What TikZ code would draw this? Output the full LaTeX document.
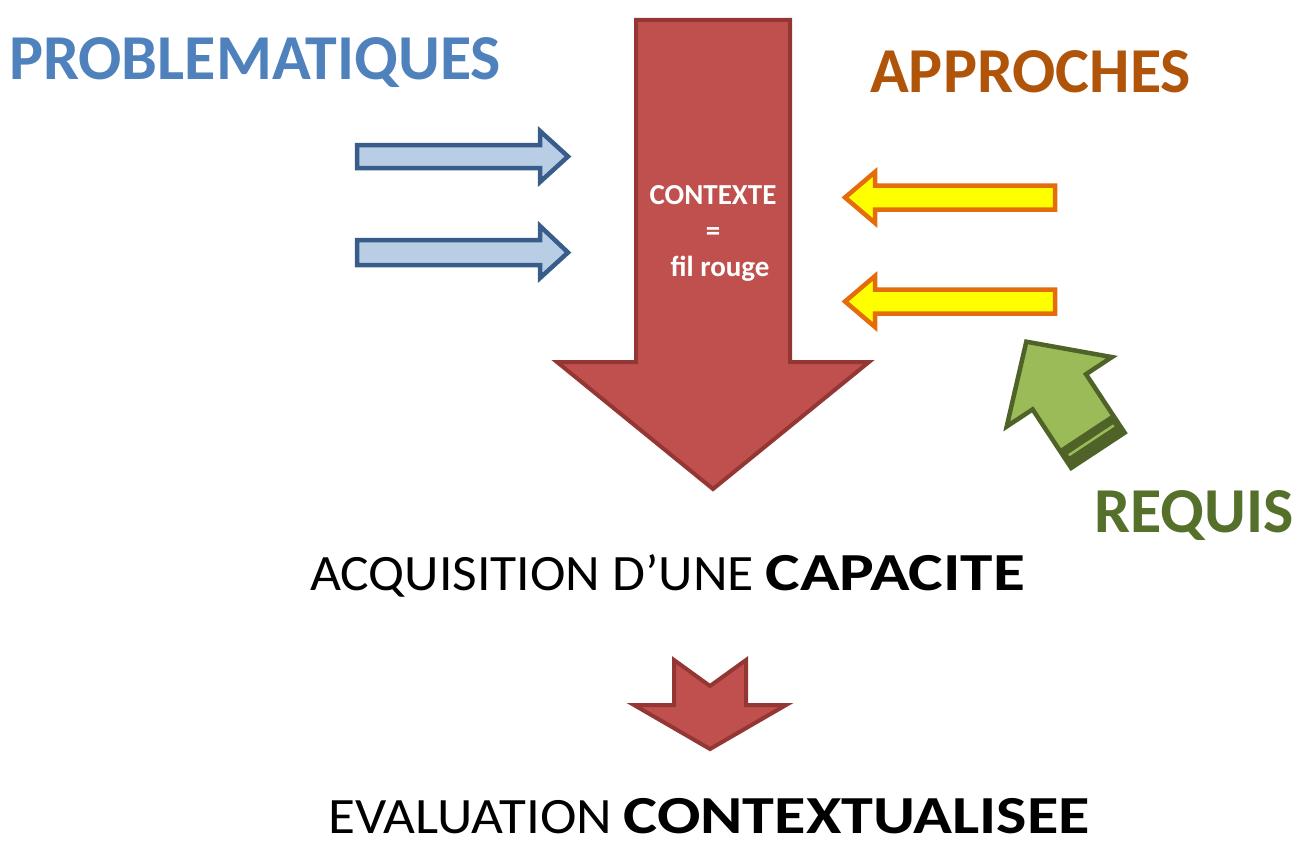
\documentclass[tikz,border=0pt]{standalone}
\usepackage{fontspec}
\setmainfont{Carlito}
\definecolor{ctxred}{HTML}{C0504D}
\definecolor{ctxreddark}{HTML}{943634}
\definecolor{pbfill}{HTML}{B9CDE5}
\definecolor{pbline}{HTML}{385D8A}
\definecolor{pbtext}{HTML}{4F81BD}
\definecolor{apfill}{HTML}{FFFF00}
\definecolor{apline}{HTML}{E46C0A}
\definecolor{aptext}{HTML}{B0540A}
\definecolor{rqfill}{HTML}{9BBB59}
\definecolor{rqline}{HTML}{4F6228}
\definecolor{rqtext}{HTML}{55702A}
\begin{document}
\begin{tikzpicture}[x=1pt,y=-1pt,line join=miter,
  redarrow/.style={fill=ctxred,draw=ctxreddark,line width=4pt},
  bluearrow/.style={fill=pbfill,draw=pbline,line width=4.5pt},
  yellowarrow/.style={fill=apfill,draw=apline,line width=4.5pt},
  greenarrow/.style={fill=rqfill,draw=rqline,line width=4.5pt},
  heading/.style={anchor=base west,inner sep=0pt,font=\bfseries\fontsize{64}{64}\selectfont},
  result/.style={anchor=base west,inner sep=0pt,font=\fontsize{51}{51}\selectfont}]
 \useasboundingbox (0,0) rectangle (1297,843);
 % fil rouge
 \draw[redarrow] (636,20) -- (790,20) -- (790,362) -- (869,362) -- (713,489)
   -- (557,362) -- (636,362) -- cycle;
 \node[align=center,text=white,font=\bfseries\fontsize{29}{36}\selectfont,anchor=base]
   (contexte) at (713,276) {CONTEXTE\\=\\\hspace*{14pt}fil rouge};
 % problematiques
 \draw[bluearrow] (357,145) -- (540,145) -- (540,131) -- (568,156.5) -- (540,182)
   -- (540,168) -- (357,168) -- cycle;
 \draw[bluearrow] (357,240) -- (540,240) -- (540,226) -- (568,252.5) -- (540,278)
   -- (540,265) -- (357,265) -- cycle;
 \node[heading,text=pbtext] (problematiques) at (9,79) {PROBLEMATIQUES};
 % approches
 \draw[yellowarrow] (1055,185.5) -- (875,185.5) -- (875,172) -- (845,197.5) -- (875,223)
   -- (875,209.5) -- (1055,209.5) -- cycle;
 \draw[yellowarrow] (1055,289.5) -- (875,289.5) -- (875,276) -- (845,301.5) -- (875,327)
   -- (875,313.5) -- (1055,313.5) -- cycle;
 \node[heading,text=aptext] (approches) at (870,92) {APPROCHES};
 % requis
 \draw[greenarrow] (1124.6,432.7) -- (1086.0,374.2) -- (1111.9,357.1) -- (1026.3,341.7)
   -- (1006.7,426.5) -- (1032.6,409.4) -- (1071.2,467.9) -- cycle;
 \fill[rqline] (1124.6,432.7) -- (1112.5,414.3) -- (1059.1,449.5) -- (1071.2,467.9) -- cycle;
 \draw[rqfill,line width=2.5pt] (1113.8,425.4) -- (1068.8,455.2);
 \node[heading,text=rqtext] (requis) at (1094,532) {REQUIS};
 % capacite
 \node[result] (capacite) at (310,590)
   {\scalebox{1.05}[1]{ACQUISITION D’UNE} \scalebox{1.28}[1.05]{\textbf{CAPACITE}}};
 \draw[redarrow] (674,660) -- (710,686) -- (746,660) -- (746,705) -- (786,705)
   -- (710,749) -- (634,705) -- (674,705) -- cycle;
 \node[result] (evaluation) at (328,833)
   {\scalebox{1.08}[1]{EVALUATION} \scalebox{1.26}[1.05]{\textbf{CONTEXTUALISEE}}};
\end{tikzpicture}
\end{document}
